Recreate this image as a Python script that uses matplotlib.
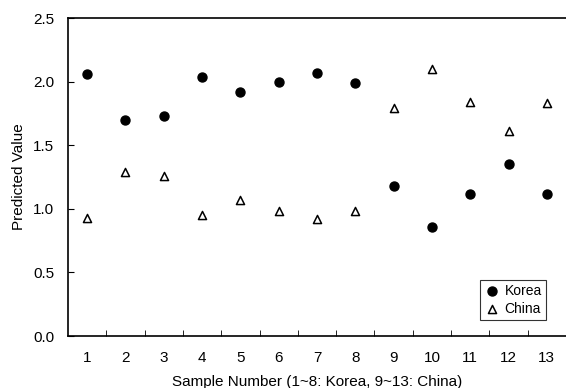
import numpy as np
import matplotlib.pyplot as plt

plt.rcParams['font.family'] = ['Liberation Sans', 'DejaVu Sans']

samples = np.arange(1, 14)
korea = [2.06, 1.70, 1.73, 2.04, 1.92, 2.00, 2.07, 1.99, 1.18, 0.86, 1.12, 1.35, 1.12]
china = [0.93, 1.29, 1.26, 0.95, 1.07, 0.98, 0.92, 0.98, 1.79, 2.10, 1.84, 1.61, 1.83]

fig = plt.figure(figsize=(5.66, 3.88), dpi=100)
ax = fig.add_axes([68 / 566, 52 / 388, 498 / 566, 318 / 388])

ax.scatter(samples, korea, marker='o', s=42, color='black', label='Korea')
ax.scatter(samples, china, marker='^', s=34, facecolor='white', edgecolor='black',
           linewidth=1.1, label='China')

ax.set_xlim(0.5, 13.5)
ax.set_ylim(0, 2.5)
ax.set_yticks(np.arange(0, 2.51, 0.5))
ax.set_yticklabels([f"{v:.1f}" for v in np.arange(0, 2.51, 0.5)])
ax.set_xticks(samples)
ax.set_xticks(np.arange(1.5, 13.5, 1), minor=True)
ax.tick_params(axis='x', which='major', length=0, pad=11, labelsize=11)
ax.tick_params(axis='x', which='minor', direction='in', length=4)
ax.tick_params(axis='y', direction='in', length=4, pad=10, labelsize=11)

ax.spines['right'].set_visible(False)
for s in ['left', 'bottom', 'top']:
    ax.spines[s].set_linewidth(1.2)

ax.set_xlabel('Sample Number (1~8: Korea, 9~13: China)', fontsize=11, labelpad=7)
ax.set_ylabel('Predicted Value', fontsize=11, labelpad=5)

leg = ax.legend(loc='lower right', bbox_to_anchor=(0.96, 0.05), fontsize=10,
                frameon=True, fancybox=False, edgecolor='black', handletextpad=0.3,
                borderpad=0.3, labelspacing=0.3, handlelength=1.2, borderaxespad=0)
leg.get_frame().set_linewidth(0.8)

fig.savefig('out.png', dpi=100)
